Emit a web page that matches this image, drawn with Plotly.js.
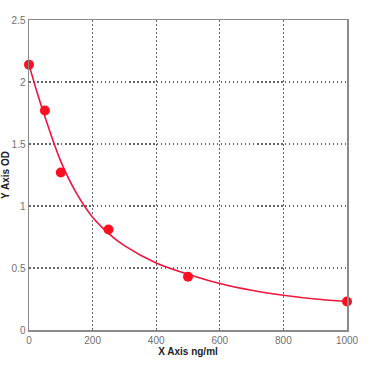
<!DOCTYPE html>
<html><head><meta charset="utf-8">
<script src="https://cdn.plot.ly/plotly-3.0.1.min.js"></script>
<style>html,body{margin:0;padding:0;background:#fff}#c{width:377px;height:376px}</style>
</head><body><div id="c"></div>
<script>
const concentrations = [0, 50, 100, 250, 500, 1000];
const odValues = [2.14, 1.77, 1.27, 0.81, 0.43, 0.23];
const curveX = [0, 25, 50, 100, 150, 200, 250, 300, 400, 500, 600, 700, 800, 900, 1000];
const curveY = [2.14, 1.92, 1.72, 1.36, 1.10, 0.91, 0.78, 0.68, 0.54, 0.45, 0.375, 0.32, 0.28, 0.25, 0.23];
const xTicks = [0, 200, 400, 600, 800, 1000];
const yTicks = [0, 0.5, 1, 1.5, 2, 2.5];

const traces = [
  {x: curveX, y: curveY, mode: 'lines', line: {color: '#f0143c', width: 1.6, shape: 'spline'}, hoverinfo: 'skip', cliponaxis: false},
  {x: concentrations, y: odValues, mode: 'markers', marker: {color: '#ff1020', size: 10}, cliponaxis: false}
];
const axisCommon = {
  showline: true, linecolor: '#8a8a8a', linewidth: 1.5, mirror: true,
  showgrid: true, gridcolor: '#666666', griddash: '1.5px,2.5px', gridwidth: 1.2,
  zeroline: false, ticks: '', tickfont: {family: 'Arial, Liberation Sans, sans-serif', size: 10, color: '#707070'}
};
const layout = {
  width: 377, height: 376, showlegend: false,
  margin: {l: 29, r: 30, t: 20, b: 46},
  paper_bgcolor: '#fff', plot_bgcolor: '#fff',
  xaxis: Object.assign({}, axisCommon, {range: [0, 1000], tickvals: xTicks, ticktext: xTicks.map(String),
    title: {text: '<b>X Axis ng/ml</b>', standoff: 2, font: {family: 'Arial, Liberation Sans, sans-serif', size: 10, color: '#222'}}}),
  yaxis: Object.assign({}, axisCommon, {range: [0, 2.5], tickvals: yTicks, ticktext: yTicks.map(String),
    title: {text: '<b>Y Axis OD</b>', standoff: 4, font: {family: 'Arial, Liberation Sans, sans-serif', size: 10, color: '#222'}}})
};
Plotly.newPlot('c', traces, layout, {staticPlot: true, displayModeBar: false});
</script></body></html>
